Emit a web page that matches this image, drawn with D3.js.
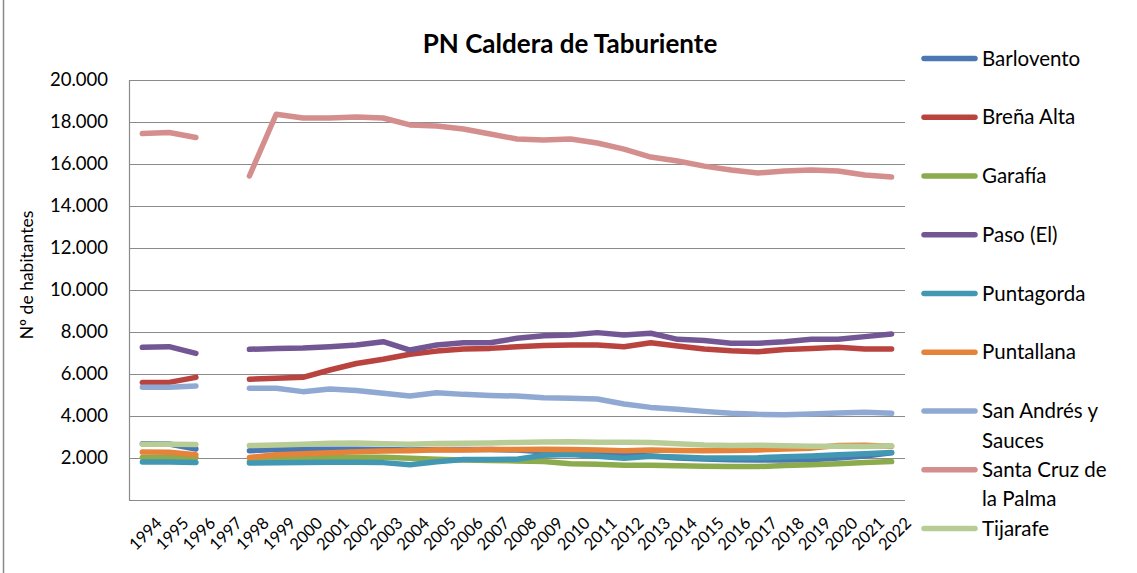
<!DOCTYPE html>
<html><head><meta charset="utf-8">
<script src="https://cdn.jsdelivr.net/npm/d3@7"></script>
<style>
html,body{margin:0;padding:0;background:#fff;}
svg{display:block;font-family:Lato,"Open Sans",sans-serif;}
</style></head>
<body>
<svg id="chart" width="1137" height="573"></svg>
<script>
const years = ["1994","1995","1996","1997","1998","1999","2000","2001","2002","2003","2004","2005","2006","2007","2008","2009","2010","2011","2012","2013","2014","2015","2016","2017","2018","2019","2020","2021","2022"];
const yTicks = [2000,4000,6000,8000,10000,12000,14000,16000,18000,20000];
const seriesNames = ["Barlovento","Breña Alta","Garafía","Paso (El)","Puntagorda","Puntallana","San Andrés y Sauces","Santa Cruz de la Palma","Tijarafe"];
const seriesColors = ["#4A78B2","#B9433F","#8CAB4C","#735795","#4298B3","#E5833A","#8FA9D3","#D48E8D","#B8CD95"];
const legendLines = [["Barlovento"],["Breña Alta"],["Garafía"],["Paso (El)"],["Puntagorda"],["Puntallana"],["San Andrés y","Sauces"],["Santa Cruz de","la Palma"],["Tijarafe"]];

const barlovento = [2680,2670,2430,null,2350,2400,2420,2420,2420,2400,2380,2400,2410,2400,2380,2300,2230,2200,2140,2100,2000,1950,1920,1900,1900,1920,2000,2100,2250];
const brenaAlta = [5600,5600,5840,null,5750,5800,5840,6190,6500,6700,6940,7090,7190,7220,7300,7360,7380,7380,7300,7490,7330,7190,7110,7060,7170,7220,7270,7190,7190];
const garafia = [2020,2020,2010,null,1850,1950,2000,2020,2030,2030,1990,1940,1900,1880,1860,1830,1730,1700,1650,1650,1630,1610,1600,1590,1640,1680,1730,1790,1830];
const pasoEl = [7270,7300,6980,null,7175,7220,7240,7300,7380,7540,7140,7380,7490,7490,7700,7825,7860,7970,7860,7940,7650,7590,7460,7460,7540,7650,7650,7780,7900];
const puntagorda = [1810,1810,1790,null,1760,1770,1780,1800,1800,1780,1680,1820,1930,1930,1940,2130,2170,2080,1990,2080,2050,2000,2000,2010,2060,2100,2150,2200,2260];
const puntallana = [2280,2270,2150,null,2030,2160,2200,2250,2300,2330,2350,2390,2380,2400,2410,2420,2400,2380,2350,2380,2360,2350,2360,2380,2430,2470,2600,2610,2560];
const sanAndres = [5365,5365,5430,null,5320,5320,5160,5290,5210,5080,4950,5110,5030,4980,4950,4870,4840,4810,4570,4410,4320,4220,4130,4080,4060,4100,4140,4180,4130];
const santaCruz = [17450,17500,17260,null,15430,18370,18190,18190,18240,18190,17860,17810,17670,17430,17190,17140,17190,17000,16710,16330,16140,15900,15710,15570,15670,15710,15670,15480,15380];
const tijarafe = [2660,2650,2640,null,2590,2620,2650,2700,2720,2680,2660,2690,2700,2720,2740,2760,2770,2750,2750,2740,2680,2620,2600,2610,2580,2560,2560,2550,2580];
const seriesValues = [barlovento,brenaAlta,garafia,pasoEl,puntagorda,puntallana,sanAndres,santaCruz,tijarafe];

const svg = d3.select("#chart");
const plot = {left:129, right:905, top:80, bottom:500};
const gridColor = "#8A8A8A";

// chart border (left edge visible)
svg.append("line").attr("x1",3.5).attr("x2",3.5).attr("y1",0).attr("y2",573)
  .attr("stroke",gridColor).attr("stroke-width",1.5);

const x = d3.scaleBand().domain(years).range([plot.left, plot.right]).paddingInner(0).paddingOuter(0);
const y = d3.scaleLinear().domain([0,20000]).range([plot.bottom, plot.top]);

// gridlines
svg.append("g").selectAll("line").data(yTicks).join("line")
  .attr("x1",plot.left).attr("x2",plot.right)
  .attr("y1",d=>Math.round(y(d))+0.5).attr("y2",d=>Math.round(y(d))+0.5)
  .attr("stroke",gridColor).attr("stroke-width",1.2);

// y axis
const yAxis = d3.axisLeft(y).tickValues(yTicks).tickSize(0).tickPadding(21)
  .tickFormat(d=>d3.format(",")(d).replace(/,/g,"."));
const gy = svg.append("g").attr("transform",`translate(${plot.left},0)`).call(yAxis);
gy.select(".domain").attr("stroke",gridColor).attr("stroke-width",1.2).attr("d",`M0.5,${plot.top}V${plot.bottom+0.5}`);
gy.selectAll("text").attr("font-size",18.5).attr("fill","#000").attr("font-family","Lato");

// x axis
const xAxis = d3.axisBottom(x).tickSize(0).tickPadding(0);
const gx = svg.append("g").attr("transform",`translate(0,${plot.bottom})`).call(xAxis);
gx.select(".domain").attr("stroke",gridColor).attr("stroke-width",1.2).attr("d",`M${plot.left},0.5H${plot.right}`);
gx.selectAll("text").attr("font-size",16.5).attr("fill","#000").attr("font-family","Lato")
  .attr("text-anchor","end").attr("dy",null).attr("y",0)
  .attr("dominant-baseline","central")
  .attr("transform",d=>`translate(${x.bandwidth()/2+3},20) rotate(-45)`);

// lines
const cx = i => x(years[i]) + x.bandwidth()/2;
const line = d3.line().defined(d=>d!=null).x((d,i)=>cx(i)).y(d=>y(d)).curve(d3.curveLinear);
svg.append("g").selectAll("path").data(seriesValues).join("path")
  .attr("d",d=>line(d))
  .attr("fill","none")
  .attr("stroke",(d,i)=>seriesColors[i])
  .attr("stroke-width",5.5)
  .attr("stroke-linecap","round").attr("stroke-linejoin","round");

// title
svg.append("text").attr("x",570).attr("y",53).attr("text-anchor","middle")
  .attr("font-size",26).attr("font-weight","bold").attr("font-family","Lato").text("PN Caldera de Taburiente");

// y axis title
svg.append("text").attr("transform","translate(33,275) rotate(-90)").attr("text-anchor","middle")
  .attr("font-size",17.5).attr("font-family","Lato").text("Nº de habitantes");

// legend
const legendY0 = 58.5, legendStep = 58.75;
const lg = svg.append("g");
seriesNames.forEach((name,i)=>{
  const yy = legendY0 + i*legendStep;
  lg.append("line").attr("x1",924).attr("x2",975).attr("y1",yy).attr("y2",yy)
    .attr("stroke",seriesColors[i]).attr("stroke-width",5.5).attr("stroke-linecap","round");
  legendLines[i].forEach((t,j)=>{
    lg.append("text").attr("x",982).attr("y",yy + 7 + j*29.5)
      .attr("font-size",20.5).attr("font-family","Lato").attr("fill","#000").text(t);
  });
});
</script>
</body></html>
